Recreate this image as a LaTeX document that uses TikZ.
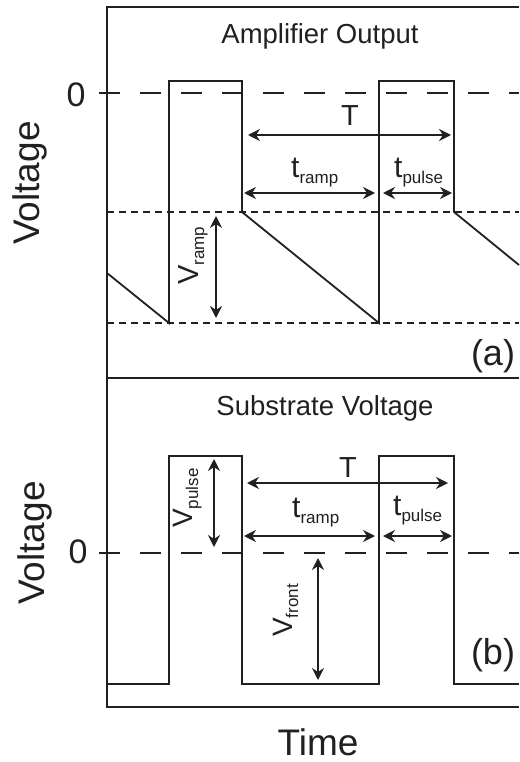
\documentclass[tikz,border=0pt]{standalone}
\usepackage{fontspec}
\setmainfont{Liberation Sans}
\usetikzlibrary{arrows.meta}
\newcommand{\fsz}[1]{\fontsize{#1}{#1}\selectfont}
\newcommand{\sublab}[3]{{\fsz{#1}#2}\raisebox{-6pt}{\fsz{17}#3}}
\definecolor{ink}{RGB}{35,31,32}
\begin{document}
\begin{tikzpicture}[x=1pt,y=-1pt,
  frameline/.style={line width=2pt, ink},
  wave/.style={line width=1.8pt, ink, line join=miter},
  zeroline/.style={line width=1.3pt, ink, dash pattern=on 21pt off 20pt},
  dotline/.style={line width=1.3pt, ink, dash pattern=on 6.5pt off 5.5pt},
  dimarrow/.style={line width=1.8pt, ink, {Stealth[length=12pt,width=12pt,inset=4pt]}-{Stealth[length=12pt,width=12pt,inset=4pt]}},
  lab/.style={inner sep=0pt, text=ink, anchor=base}
]
\useasboundingbox (0,0) rectangle (519,762);

% frame
\draw[frameline] (519,7) -- (107,7) -- (107,707) -- (519,707);
\draw[frameline] (107,378) -- (519,378);

% reference lines
\draw[zeroline] (99,93) -- (519,93);
\draw[zeroline] (99,553) -- (519,553);
\draw[dotline] (107,212) -- (519,212);
\draw[dotline] (107,323) -- (519,323);

% waveform (a)
\draw[wave] (107,273) -- (169,323) -- (169,81) -- (242,81) -- (242,212) -- (379,323) -- (379,81) -- (454,81) -- (454,212) -- (519,265);
% waveform (b)
\draw[wave] (107,684) -- (169,684) -- (169,456) -- (242,456) -- (242,684) -- (379,684) -- (379,456) -- (454,456) -- (454,684) -- (519,684);

% dimension arrows (a)
\coordinate (aTl) at (248,135); \coordinate (aTr) at (451,135);
\coordinate (aRl) at (244,193); \coordinate (aRr) at (375,193);
\coordinate (aPl) at (383,193); \coordinate (aPr) at (452,193);
\coordinate (aVt) at (216,216); \coordinate (aVb) at (216,318);
\draw[dimarrow] (aTl) -- (aTr);
\draw[dimarrow] (aRl) -- (aRr);
\draw[dimarrow] (aPl) -- (aPr);
\draw[dimarrow] (aVt) -- (aVb);

% dimension arrows (b)
\coordinate (bTl) at (247,483); \coordinate (bTr) at (448,483);
\coordinate (bRl) at (244,536); \coordinate (bRr) at (375,536);
\coordinate (bPl) at (383,536); \coordinate (bPr) at (452,536);
\coordinate (bVt) at (214,459); \coordinate (bVb) at (214,547);
\coordinate (bFt) at (318,558); \coordinate (bFb) at (318,680);
\draw[dimarrow] (bTl) -- (bTr);
\draw[dimarrow] (bRl) -- (bRr);
\draw[dimarrow] (bPl) -- (bPr);
\draw[dimarrow] (bVt) -- (bVb);
\draw[dimarrow] (bFt) -- (bFb);

% labels
\node[lab] (titleA) at (320,44) {\fsz{27.5}Amplifier Output};
\node[lab] (titleB) at (325,415) {\fsz{27.5}Substrate Voltage};
\node[lab] (zeroA) at (76,107) {\fsz{34}0};
\node[lab] (zeroB) at (78,563) {\fsz{34}0};
\node[lab, rotate=90] (voltA) at (39,183) {\fsz{37}Voltage};
\node[lab, rotate=90] (voltB) at (44,543) {\fsz{37}Voltage};
\node[lab] (time) at (318,755) {\fsz{37}Time};
\node[lab] (pa) at (493,365) {\fsz{36}(a)};
\node[lab] (pb) at (493,664) {\fsz{36}(b)};

\node[lab] (TA) at (350,126) {\fsz{29}T};
\node[lab] (TB) at (348,477) {\fsz{29}T};
\node[lab, anchor=base west] (trampA) at (291,177) {\sublab{30}{t}{ramp}};
\node[lab, anchor=base west] (tpulseA) at (394,177) {\sublab{30}{t}{pulse}};
\node[lab, anchor=base west] (trampB) at (292,517) {\sublab{30}{t}{ramp}};
\node[lab, anchor=base west] (tpulseB) at (393,515) {\sublab{30}{t}{pulse}};

\node[lab, anchor=base west, rotate=90] (vrampA) at (198,285) {\sublab{29}{V}{ramp}};
\node[lab, anchor=base west, rotate=90] (vpulseB) at (192,528) {\sublab{28}{V}{pulse}};
\node[lab, anchor=base west, rotate=90] (vfrontB) at (292,637) {\sublab{28}{V}{front}};
\end{tikzpicture}
\end{document}
